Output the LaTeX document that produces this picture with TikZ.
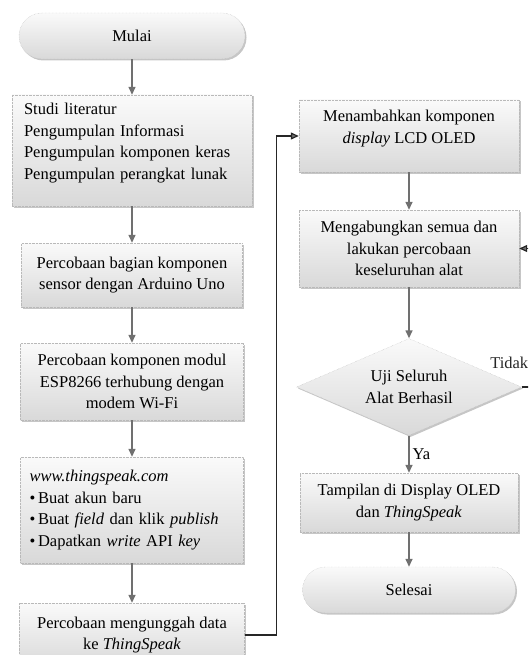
\documentclass[tikz,border=0pt]{standalone}
\usepackage{fontspec}
\setmainfont{Liberation Serif}
\usetikzlibrary{arrows.meta}
\usetikzlibrary{shapes.geometric,shadows}
\usetikzlibrary{positioning}
\definecolor{garis}{HTML}{707070}

\begin{document}
\begin{tikzpicture}[x=1pt,y=-1pt,
    font=\fontsize{16.5}{21.5}\selectfont,
    kotak/.style={draw=gray!55, densely dotted, top color=gray!4, bottom color=gray!30,
      drop shadow={shadow xshift=1.5pt,shadow yshift=-1.5pt,fill=gray,opacity=0.45},
      align=center, inner sep=0pt},
    ujung/.style={kotak, rounded corners=23pt, minimum height=46pt},
    keputusan/.style={kotak, diamond, aspect=2.3, minimum width=225pt, minimum height=97pt},
    panah/.style={garis, line width=1.4pt, -{Triangle[length=8pt,width=7pt]}},
    balik/.style={black!85, line width=1.2pt, -{Triangle[length=8pt,width=7pt,fill=garis]}}]
    \useasboundingbox (0,0) rectangle (528,655);
    \clip (0,0) rectangle (528,655);

    % left column
    \node[ujung, minimum width=226pt] (mulai) at (132,36) {Mulai};
    \node[kotak, align=left, text width=216pt, inner xsep=12pt, minimum height=111pt] (studi) at (132,150.5)
      {Studi literatur\\Pengumpulan Informasi\\Pengumpulan komponen keras\\Pengumpulan perangkat lunak\\[-3.5pt]\mbox{}};
    \node[kotak, minimum width=221pt, minimum height=64pt] (sensor) at (132,275)
      {Percobaan bagian komponen\\sensor dengan Arduino Uno};
    \node[kotak, minimum width=223pt, minimum height=77pt] (esp) at (132,381.5)
      {Percobaan komponen modul\\ESP8266 terhubung dengan\\modem Wi-Fi};
    \node[kotak, align=left, text width=205pt, inner xsep=9pt, minimum height=106pt] (web) at (132,510)
      {\textit{www.thingspeak.com}\\\textbullet\,Buat akun baru\\\textbullet\,Buat \textit{field} dan klik \textit{publish}\\\textbullet\,Dapatkan \textit{write} API \textit{key}};
    \node[kotak, minimum width=225pt, minimum height=64pt] (unggah) at (132,635)
      {Percobaan mengunggah data\\ke \textit{ThingSpeak}};

    % right column
    \node[kotak, minimum width=220pt, minimum height=72pt] (tambah) at (409,136)
      {Menambahkan komponen\\\textit{display} LCD OLED\\[-3.5pt]\mbox{}};
    \node[kotak, minimum width=220pt, minimum height=77pt] (gabung) at (409,248.5)
      {Mengabungkan semua dan\\lakukan percobaan\\keseluruhan alat};
    \node[keputusan] (uji) at (409,387) {Uji Seluruh\\Alat Berhasil};
    \node[kotak, minimum width=218pt, minimum height=59pt] (tampil) at (409,502.5)
      {Tampilan di Display OLED\\dan \textit{ThingSpeak}};
    \node[ujung, minimum width=213pt] (selesai) at (409,590) {Selesai};

    % flow
    \draw[panah] (mulai) -- (studi);
    \draw[panah] (studi) -- (sensor);
    \draw[panah] (sensor) -- (esp);
    \draw[panah] (esp) -- (web);
    \draw[panah] (web) -- (unggah);
    \draw[balik] (unggah.east) -- ++(32,0) |- (tambah.west);
    \draw[panah] (tambah) -- (gabung);
    \draw[panah] (gabung) -- (uji);
    \draw[panah] (uji) -- node[right, inner sep=3pt, text=black] {Ya} (tampil);
    \draw[panah] (tampil) -- (selesai);
    \draw[balik] (uji.east) -- node[pos=0, above right, inner sep=1pt, xshift=-33pt, yshift=17pt] {Tidak}
      ++(25,0) |- (gabung.east);
  \end{tikzpicture}
\end{document}
